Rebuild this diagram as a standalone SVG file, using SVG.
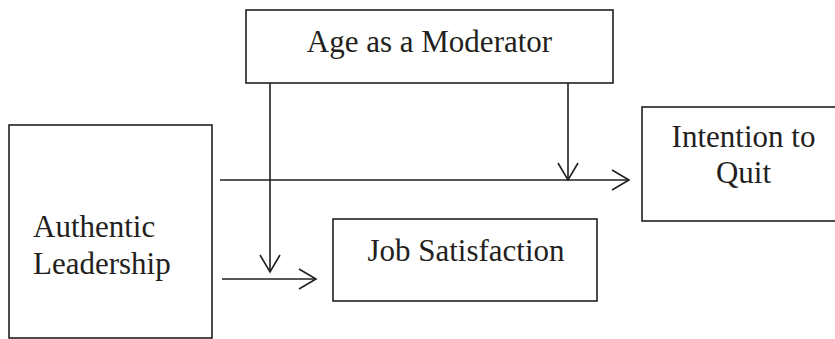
<svg xmlns="http://www.w3.org/2000/svg" width="835" height="339" viewBox="0 0 835 339">
<defs>
<style>
.box{fill:#fff;stroke:#231f20;stroke-width:1.6}
.t{font-family:"Liberation Serif","Times New Roman",serif;font-size:31px;fill:#231f20}
.c{text-anchor:middle}
.ln{fill:none;stroke:#231f20;stroke-width:1.6}
</style>
<marker id="ah" viewBox="0 0 20 22" refX="18" refY="11" markerWidth="20" markerHeight="22" markerUnits="userSpaceOnUse" orient="auto">
<path d="M1,1 L18,11 L1,21" fill="none" stroke="#231f20" stroke-width="1.6"/>
</marker>
</defs>
<rect width="835" height="339" fill="#fff"/>
<g id="age">
<rect class="box" x="246" y="10" width="367" height="73"/>
<text class="t c" x="429.5" y="52">Age as a Moderator</text>
</g>
<g id="authentic">
<rect class="box" x="9" y="125" width="203" height="213"/>
<text class="t" x="33" y="237">Authentic</text>
<text class="t" x="33" y="274">Leadership</text>
</g>
<g id="intention">
<rect class="box" x="642" y="107" width="205" height="114"/>
<text class="t c" x="743.5" y="147">Intention to</text>
<text class="t c" x="743.5" y="183">Quit</text>
</g>
<g id="job">
<rect class="box" x="333" y="219" width="264" height="82"/>
<text class="t c" x="466" y="261">Job Satisfaction</text>
</g>
<g id="connectors">
<line class="ln" x1="220" y1="180" x2="629" y2="180" marker-end="url(#ah)"/>
<line class="ln" x1="568" y1="83" x2="568" y2="180" marker-end="url(#ah)"/>
<line class="ln" x1="222" y1="279" x2="316" y2="279" marker-end="url(#ah)"/>
<line class="ln" x1="270" y1="83" x2="270" y2="272" marker-end="url(#ah)"/>
</g>
</svg>
